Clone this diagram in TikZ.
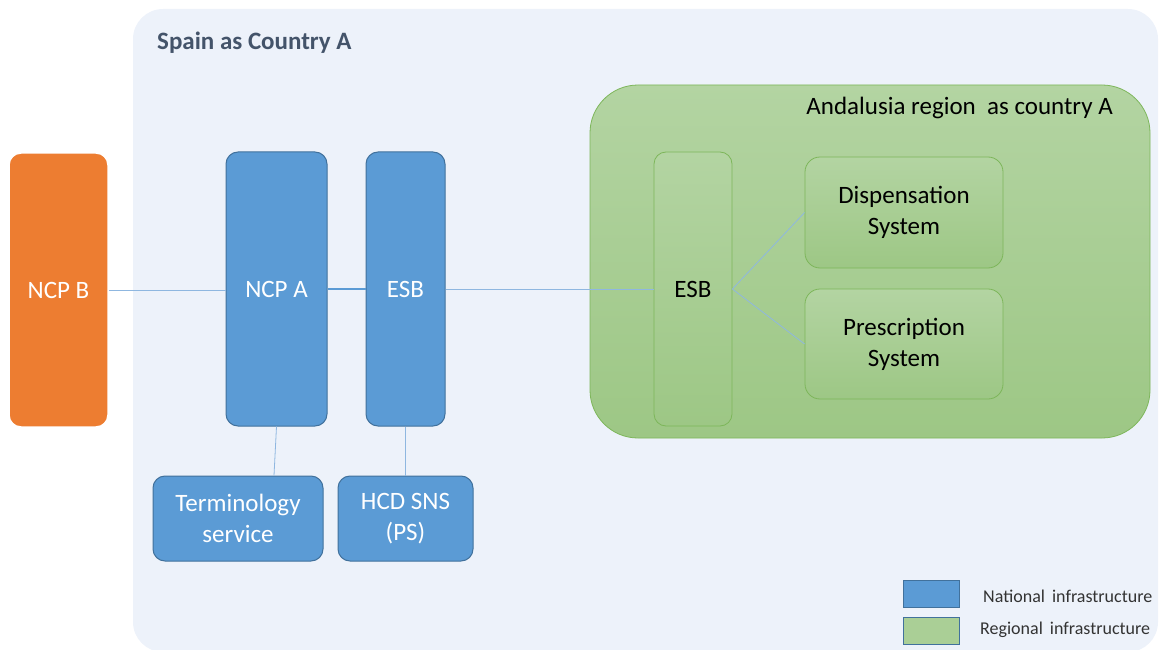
\documentclass[tikz,border=0pt]{standalone}
\usepackage{fontspec}
\setmainfont{Carlito}
\usetikzlibrary{positioning}
\definecolor{bgpanel}{HTML}{EDF2FA}
\definecolor{natfill}{HTML}{5B9BD5}
\definecolor{natedge}{HTML}{41719C}
\definecolor{orangefill}{HTML}{ED7D31}
\definecolor{regtop}{HTML}{B3D4A2}
\definecolor{regbot}{HTML}{9DC785}
\definecolor{regedge}{HTML}{7DB65A}
\definecolor{linkblue}{HTML}{8FB7E0}
\definecolor{titlegrey}{HTML}{44546A}
\tikzset{
  natbox/.style={draw=natedge, line width=1pt, fill=natfill, rounded corners=12pt,
    text=white, font=\fontsize{25}{31}\selectfont, align=center, inner sep=0pt},
  regbox/.style={draw=regedge, line width=0.8pt, top color=regtop, bottom color=regbot,
    rounded corners=12pt, text=black, font=\fontsize{25}{31}\selectfont, align=center, inner sep=0pt},
  link/.style={draw=linkblue, line width=0.8pt},
  legendkey/.style={draw=natedge, line width=1pt, minimum width=56pt, minimum height=27pt, inner sep=0pt},
  legendtext/.style={font=\fontsize{18}{21}\selectfont, text=black!80, anchor=west, inner sep=0pt}
}
\begin{document}
\begin{tikzpicture}[x=1pt,y=-1pt]
\useasboundingbox (0,0) rectangle (1159,650);
% country panel
\fill[bgpanel, rounded corners=30pt] (133,9) rectangle (1158,652);
\node[anchor=west, inner sep=0pt, font=\bfseries\fontsize{25}{30}\selectfont, text=titlegrey] (spain) at (157,43) {Spain as Country A};

% regional panel
\node[regbox, rounded corners=48pt, minimum width=560pt, minimum height=353pt] (andalusia) at (870,261.5) {};
\node[anchor=east, inner sep=0pt, font=\fontsize{25}{30}\selectfont] (andtitle) at (1113,108) {Andalusia region \ as country A};

% national boxes
\node[natbox, draw=white, line width=1.5pt, fill=orangefill, minimum width=99pt, minimum height=274pt] (ncpb) at (58.5,290) {NCP B};
\node[natbox, minimum width=101pt, minimum height=274pt] (ncpa) at (276.5,289) {NCP A};
\node[natbox, minimum width=79pt, minimum height=274pt] (esb) at (405.5,289) {ESB};
\node[natbox, minimum width=170pt, minimum height=85pt] (term) at (238,518.5) {Terminology\\service};
\node[natbox, minimum width=135pt, minimum height=85pt] (hcd) at (405.5,518.5) {HCD SNS\\(PS)};

% regional boxes
\node[regbox, minimum width=78pt, minimum height=274pt] (resb) at (693,289) {ESB};
\node[regbox, rounded corners=15pt, minimum width=198pt, minimum height=111pt] (disp) at (904,212.5) {Dispensation\\System};
\node[regbox, rounded corners=15pt, minimum width=198pt, minimum height=110pt] (presc) at (904,344) {Prescription\\System};

% connectors
\draw[link] (ncpb.east) -- (ncpa.west |- ncpb.east);
\draw[draw=natfill, line width=2.5pt] (ncpa.east) -- (esb.west);
\draw[link] (esb.east) -- (resb.west);
\draw[link] (resb.east) -- (disp.west);
\draw[link] (resb.east) -- (presc.west);
\draw[link] (ncpa.south) -- (term.north -| 274,0);
\draw[link] (esb.south) -- (hcd.north);

% legend
\node[legendkey, fill=natfill] (keynat) at (931.5,594) {};
\node[legendkey, fill=regtop!60!regbot] (keyreg) at (931.5,630.5) {};
\node[legendtext] (labnat) at (983,596) {National \,infrastructure};
\node[legendtext] (labreg) at (980,630) {Regional \,infrastructure};
\end{tikzpicture}
\end{document}
